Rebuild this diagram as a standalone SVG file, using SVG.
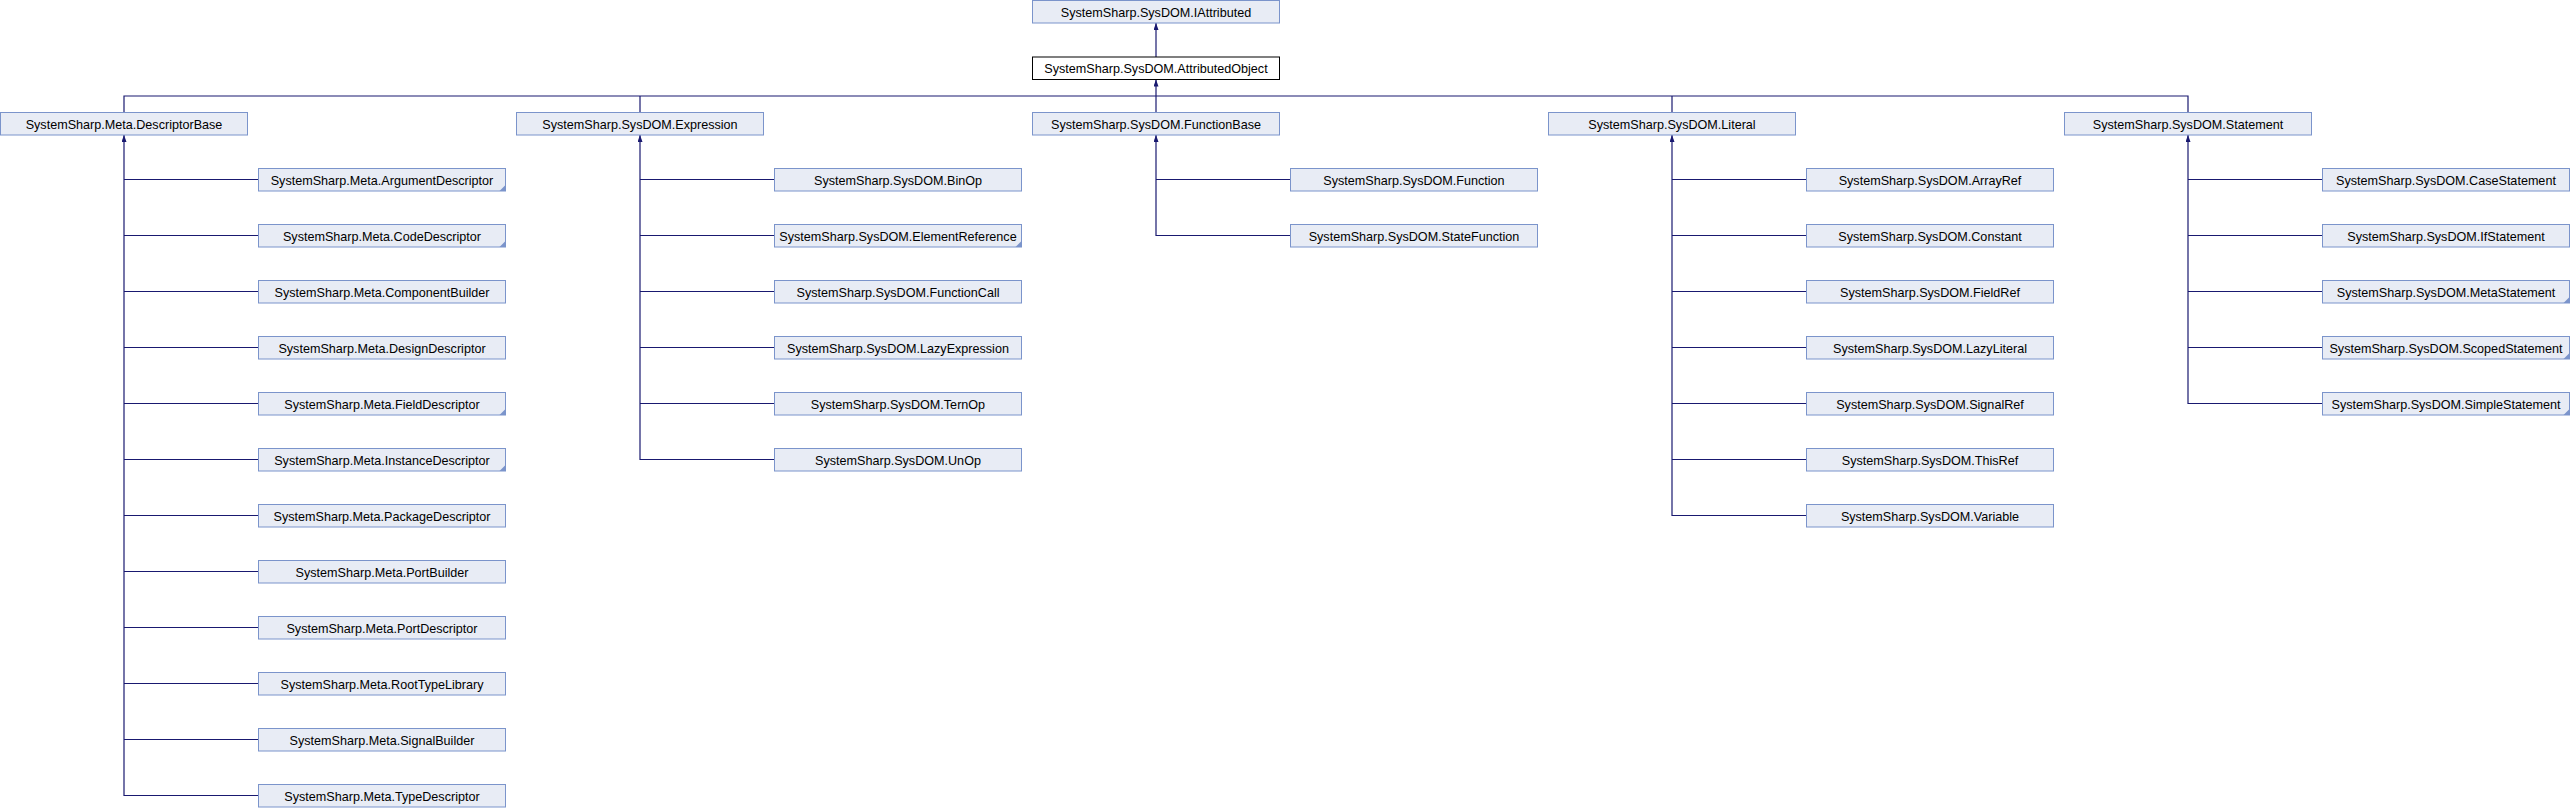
<svg xmlns="http://www.w3.org/2000/svg" width="2570" height="808" viewBox="0 0 2570 808">
<style>
.n rect{fill:#e8ecf5;stroke:#7b94cb;stroke-width:1}
.n.cur rect{fill:#ffffff;stroke:#000000}
.n text{font-family:"Liberation Sans",Arial,sans-serif;font-size:12.6px;fill:#000;text-anchor:middle}
.fold{fill:#7b94cb;stroke:none}
#edges path{fill:none;stroke:#191970;stroke-width:1.2}
</style>
<defs>
<marker id="ah" markerUnits="userSpaceOnUse" viewBox="0 0 7 5" refX="7" refY="2.5" markerWidth="7" markerHeight="5" orient="auto">
<path d="M0,0 L7,2.5 L0,5 z" fill="#191970"/>
</marker>
</defs>
<rect width="2570" height="808" fill="#ffffff"/>
<g id="edges">
<path d="M1156,57 V23" marker-end="url(#ah)"/>
<path d="M124,112.5 V96 H2188 V112.5"/>
<path d="M640,112.5 V96"/>
<path d="M1672,112.5 V96"/>
<path d="M1156,112.5 V79.5" marker-end="url(#ah)"/>
<path d="M258.5,795.5 H124 V135" marker-end="url(#ah)"/>
<path d="M258.5,179.5 H124 M258.5,235.5 H124 M258.5,291.5 H124 M258.5,347.5 H124 M258.5,403.5 H124 M258.5,459.5 H124 M258.5,515.5 H124 M258.5,571.5 H124 M258.5,627.5 H124 M258.5,683.5 H124 M258.5,739.5 H124"/>
<path d="M774.5,459.5 H640 V135" marker-end="url(#ah)"/>
<path d="M774.5,179.5 H640 M774.5,235.5 H640 M774.5,291.5 H640 M774.5,347.5 H640 M774.5,403.5 H640"/>
<path d="M1290.5,235.5 H1156 V135" marker-end="url(#ah)"/>
<path d="M1290.5,179.5 H1156"/>
<path d="M1806.5,515.5 H1672 V135" marker-end="url(#ah)"/>
<path d="M1806.5,179.5 H1672 M1806.5,235.5 H1672 M1806.5,291.5 H1672 M1806.5,347.5 H1672 M1806.5,403.5 H1672 M1806.5,459.5 H1672"/>
<path d="M2322.5,403.5 H2188 V135" marker-end="url(#ah)"/>
<path d="M2322.5,179.5 H2188 M2322.5,235.5 H2188 M2322.5,291.5 H2188 M2322.5,347.5 H2188"/>
</g>
<g id="n_iattributed" class="n"><rect x="1032.5" y="0.5" width="247" height="22.5"/><text x="1156" y="16.5">SystemSharp.SysDOM.IAttributed</text></g>
<g id="n_attributedobject" class="n cur"><rect x="1032.5" y="57" width="247" height="22.5"/><text x="1156" y="73">SystemSharp.SysDOM.AttributedObject</text></g>
<g id="n_descriptorbase" class="n"><rect x="0.5" y="112.5" width="247" height="22.5"/><text x="124" y="128.5">SystemSharp.Meta.DescriptorBase</text></g>
<g id="n_expression" class="n"><rect x="516.5" y="112.5" width="247" height="22.5"/><text x="640" y="128.5">SystemSharp.SysDOM.Expression</text></g>
<g id="n_functionbase" class="n"><rect x="1032.5" y="112.5" width="247" height="22.5"/><text x="1156" y="128.5">SystemSharp.SysDOM.FunctionBase</text></g>
<g id="n_literal" class="n"><rect x="1548.5" y="112.5" width="247" height="22.5"/><text x="1672" y="128.5">SystemSharp.SysDOM.Literal</text></g>
<g id="n_statement" class="n"><rect x="2064.5" y="112.5" width="247" height="22.5"/><text x="2188" y="128.5">SystemSharp.SysDOM.Statement</text></g>

<g id="n_argumentdescriptor" class="n"><rect x="258.5" y="168.5" width="247" height="22.5"/><polygon class="fold" points="505.5,185 505.5,191 499.5,191"/><text x="382" y="184.5">SystemSharp.Meta.ArgumentDescriptor</text></g>
<g id="n_codedescriptor" class="n"><rect x="258.5" y="224.5" width="247" height="22.5"/><polygon class="fold" points="505.5,241 505.5,247 499.5,247"/><text x="382" y="240.5">SystemSharp.Meta.CodeDescriptor</text></g>
<g id="n_componentbuilder" class="n"><rect x="258.5" y="280.5" width="247" height="22.5"/><text x="382" y="296.5">SystemSharp.Meta.ComponentBuilder</text></g>
<g id="n_designdescriptor" class="n"><rect x="258.5" y="336.5" width="247" height="22.5"/><text x="382" y="352.5">SystemSharp.Meta.DesignDescriptor</text></g>
<g id="n_fielddescriptor" class="n"><rect x="258.5" y="392.5" width="247" height="22.5"/><polygon class="fold" points="505.5,409 505.5,415 499.5,415"/><text x="382" y="408.5">SystemSharp.Meta.FieldDescriptor</text></g>
<g id="n_instancedescriptor" class="n"><rect x="258.5" y="448.5" width="247" height="22.5"/><polygon class="fold" points="505.5,465 505.5,471 499.5,471"/><text x="382" y="464.5">SystemSharp.Meta.InstanceDescriptor</text></g>
<g id="n_packagedescriptor" class="n"><rect x="258.5" y="504.5" width="247" height="22.5"/><text x="382" y="520.5">SystemSharp.Meta.PackageDescriptor</text></g>
<g id="n_portbuilder" class="n"><rect x="258.5" y="560.5" width="247" height="22.5"/><text x="382" y="576.5">SystemSharp.Meta.PortBuilder</text></g>
<g id="n_portdescriptor" class="n"><rect x="258.5" y="616.5" width="247" height="22.5"/><text x="382" y="632.5">SystemSharp.Meta.PortDescriptor</text></g>
<g id="n_roottypelibrary" class="n"><rect x="258.5" y="672.5" width="247" height="22.5"/><text x="382" y="688.5">SystemSharp.Meta.RootTypeLibrary</text></g>
<g id="n_signalbuilder" class="n"><rect x="258.5" y="728.5" width="247" height="22.5"/><text x="382" y="744.5">SystemSharp.Meta.SignalBuilder</text></g>
<g id="n_typedescriptor" class="n"><rect x="258.5" y="784.5" width="247" height="22.5"/><text x="382" y="800.5">SystemSharp.Meta.TypeDescriptor</text></g>

<g id="n_binop" class="n"><rect x="774.5" y="168.5" width="247" height="22.5"/><text x="898" y="184.5">SystemSharp.SysDOM.BinOp</text></g>
<g id="n_elementreference" class="n"><rect x="774.5" y="224.5" width="247" height="22.5"/><polygon class="fold" points="1021.5,241 1021.5,247 1015.5,247"/><text x="898" y="240.5">SystemSharp.SysDOM.ElementReference</text></g>
<g id="n_functioncall" class="n"><rect x="774.5" y="280.5" width="247" height="22.5"/><text x="898" y="296.5">SystemSharp.SysDOM.FunctionCall</text></g>
<g id="n_lazyexpression" class="n"><rect x="774.5" y="336.5" width="247" height="22.5"/><text x="898" y="352.5">SystemSharp.SysDOM.LazyExpression</text></g>
<g id="n_ternop" class="n"><rect x="774.5" y="392.5" width="247" height="22.5"/><text x="898" y="408.5">SystemSharp.SysDOM.TernOp</text></g>
<g id="n_unop" class="n"><rect x="774.5" y="448.5" width="247" height="22.5"/><text x="898" y="464.5">SystemSharp.SysDOM.UnOp</text></g>

<g id="n_function" class="n"><rect x="1290.5" y="168.5" width="247" height="22.5"/><text x="1414" y="184.5">SystemSharp.SysDOM.Function</text></g>
<g id="n_statefunction" class="n"><rect x="1290.5" y="224.5" width="247" height="22.5"/><text x="1414" y="240.5">SystemSharp.SysDOM.StateFunction</text></g>

<g id="n_arrayref" class="n"><rect x="1806.5" y="168.5" width="247" height="22.5"/><text x="1930" y="184.5">SystemSharp.SysDOM.ArrayRef</text></g>
<g id="n_constant" class="n"><rect x="1806.5" y="224.5" width="247" height="22.5"/><text x="1930" y="240.5">SystemSharp.SysDOM.Constant</text></g>
<g id="n_fieldref" class="n"><rect x="1806.5" y="280.5" width="247" height="22.5"/><text x="1930" y="296.5">SystemSharp.SysDOM.FieldRef</text></g>
<g id="n_lazyliteral" class="n"><rect x="1806.5" y="336.5" width="247" height="22.5"/><text x="1930" y="352.5">SystemSharp.SysDOM.LazyLiteral</text></g>
<g id="n_signalref" class="n"><rect x="1806.5" y="392.5" width="247" height="22.5"/><text x="1930" y="408.5">SystemSharp.SysDOM.SignalRef</text></g>
<g id="n_thisref" class="n"><rect x="1806.5" y="448.5" width="247" height="22.5"/><text x="1930" y="464.5">SystemSharp.SysDOM.ThisRef</text></g>
<g id="n_variable" class="n"><rect x="1806.5" y="504.5" width="247" height="22.5"/><text x="1930" y="520.5">SystemSharp.SysDOM.Variable</text></g>

<g id="n_casestatement" class="n"><rect x="2322.5" y="168.5" width="247" height="22.5"/><text x="2446" y="184.5">SystemSharp.SysDOM.CaseStatement</text></g>
<g id="n_ifstatement" class="n"><rect x="2322.5" y="224.5" width="247" height="22.5"/><text x="2446" y="240.5">SystemSharp.SysDOM.IfStatement</text></g>
<g id="n_metastatement" class="n"><rect x="2322.5" y="280.5" width="247" height="22.5"/><polygon class="fold" points="2569.5,297 2569.5,303 2563.5,303"/><text x="2446" y="296.5">SystemSharp.SysDOM.MetaStatement</text></g>
<g id="n_scopedstatement" class="n"><rect x="2322.5" y="336.5" width="247" height="22.5"/><polygon class="fold" points="2569.5,353 2569.5,359 2563.5,359"/><text x="2446" y="352.5">SystemSharp.SysDOM.ScopedStatement</text></g>
<g id="n_simplestatement" class="n"><rect x="2322.5" y="392.5" width="247" height="22.5"/><polygon class="fold" points="2569.5,409 2569.5,415 2563.5,415"/><text x="2446" y="408.5">SystemSharp.SysDOM.SimpleStatement</text></g>
</svg>
